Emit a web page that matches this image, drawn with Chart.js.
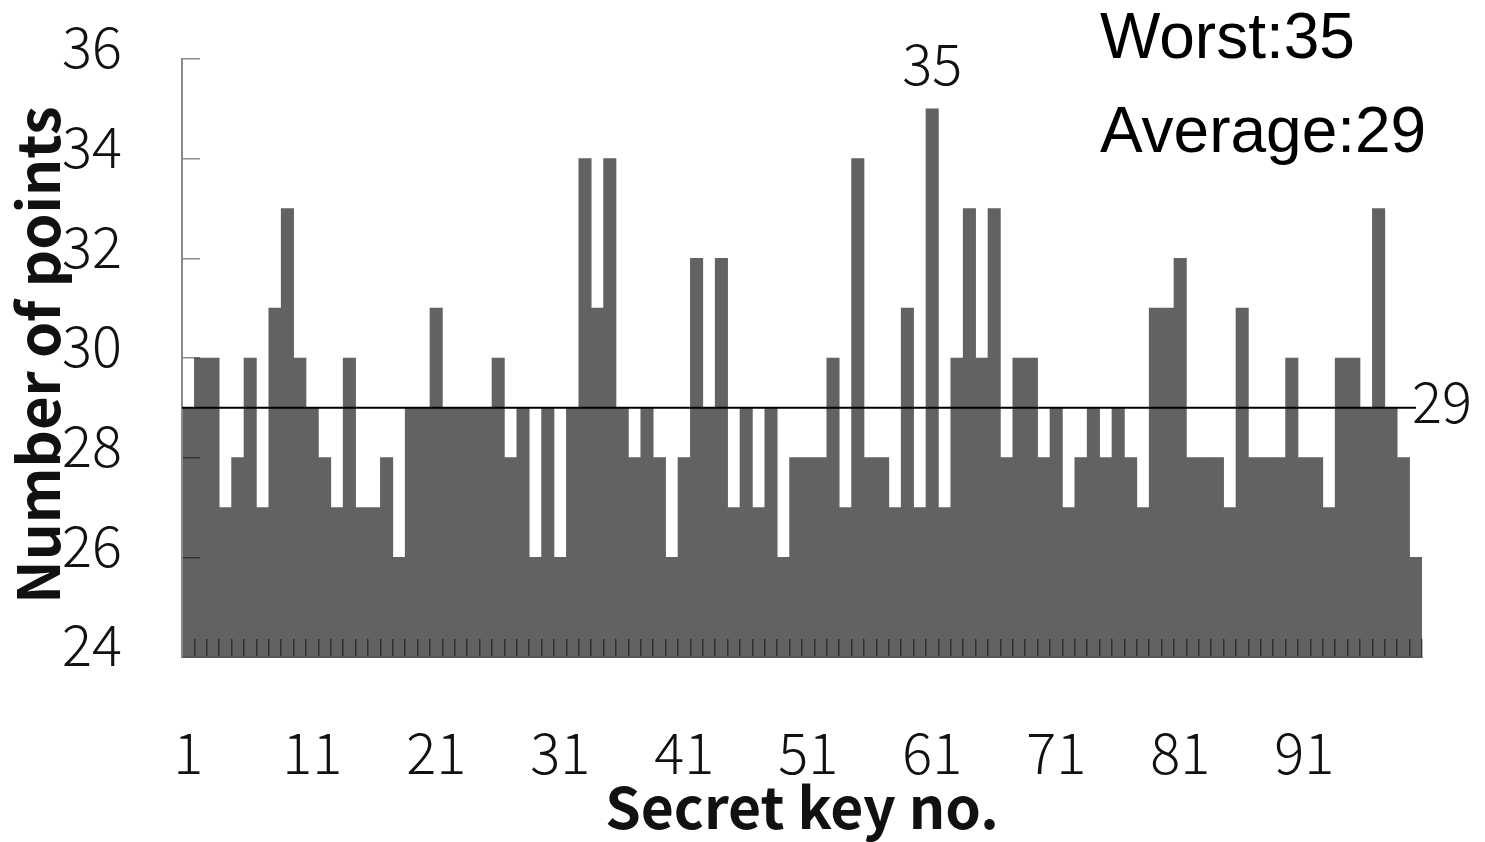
<!DOCTYPE html>
<html>
<head>
<meta charset="utf-8">
<script src="https://cdn.jsdelivr.net/npm/chart.js@4.4.1/dist/chart.umd.min.js"></script>
<style>
  html, body { margin: 0; padding: 0; background: #fff; }
  #wrap { width: 1485px; height: 842px; }
</style>
</head>
<body>
<div id="wrap"><canvas id="chart" width="1485" height="842"></canvas></div>
<script>
// Number of points per secret key (keys 1..100)
const keyNos = Array.from({ length: 100 }, (_, i) => String(i + 1));
const points = [
  29, 30, 30, 27, 28, 30, 27, 31, 33, 30,
  29, 28, 27, 30, 27, 27, 28, 26, 29, 29,
  31, 29, 29, 29, 29, 30, 28, 29, 26, 29,
  26, 29, 34, 31, 34, 29, 28, 29, 28, 26,
  28, 32, 29, 32, 27, 29, 27, 29, 26, 28,
  28, 28, 30, 27, 34, 28, 28, 27, 31, 27,
  35, 27, 30, 33, 30, 33, 28, 30, 30, 28,
  29, 27, 28, 29, 28, 29, 28, 27, 31, 31,
  32, 28, 28, 28, 27, 31, 28, 28, 28, 30,
  28, 28, 27, 30, 30, 29, 33, 29, 28, 26
];
const worstValue = 35;
const averageValue = 29;
const yRange = [24, 36];

const digitFont = '"Noto Sans CJK JP", "DejaVu Sans", sans-serif';
const BAR_GREY = '#626262';

// average line, peak label, legend text, y title
const overlay = {
  id: 'overlay',
  afterDraw(chart) {
    const { ctx, chartArea } = chart;
    const x = chart.scales.x, y = chart.scales.y;
    ctx.save();

    // average line
    const ay = y.getPixelForValue(averageValue);
    ctx.strokeStyle = '#000';
    ctx.lineWidth = 2;
    ctx.beginPath();
    ctx.moveTo(chartArea.left, ay);
    ctx.lineTo(chartArea.right - 6, ay);
    ctx.stroke();

    ctx.fillStyle = '#111';
    ctx.font = '300 56px ' + digitFont;
    ctx.textBaseline = 'middle';
    ctx.textAlign = 'left';
    ctx.fillText(String(averageValue), chartArea.right - 10, ay - 6);

    // worst value label over its bar
    const wi = points.indexOf(worstValue);
    ctx.textAlign = 'center';
    ctx.fillText(String(worstValue), x.getPixelForValue(wi), y.getPixelForValue(worstValue) - 45);

    // summary text
    ctx.font = '64px "Liberation Sans", Arial, sans-serif';
    ctx.textAlign = 'left';
    ctx.textBaseline = 'alphabetic';
    ctx.fillStyle = '#000';
    ctx.fillText('Worst:' + worstValue, 1100, 58);
    ctx.fillText('Average:' + averageValue, 1100, 152);

    // y axis title, drawn over the tick labels like the original
    ctx.translate(60, 355);
    ctx.rotate(-Math.PI / 2);
    ctx.font = 'bold 58px ' + digitFont;
    ctx.textAlign = 'center';
    ctx.fillStyle = '#111';
    ctx.fillText('Number of points', 0, 0);
    ctx.restore();
  }
};

new Chart(document.getElementById('chart'), {
  type: 'bar',
  data: {
    labels: keyNos,
    datasets: [{
      data: points,
      backgroundColor: BAR_GREY,
      borderWidth: 0,
      barPercentage: 1.0,
      categoryPercentage: 1.0
    }]
  },
  options: {
    responsive: false,
    animation: false,
    devicePixelRatio: 1,
    layout: { padding: { left: 0, right: 63, top: 59, bottom: 0 } },
    plugins: { legend: { display: false }, tooltip: { enabled: false } },
    scales: {
      x: {
        grid: {
          z: 1,
          drawOnChartArea: false,
          tickLength: -18,
          color: 'rgba(0,0,0,0.5)',
          lineWidth: 1.5
        },
        border: { display: true, color: '#555', width: 2, z: 2 },
        ticks: {
          autoSkip: false,
          maxRotation: 0,
          padding: 80,
          color: '#111',
          font: { family: digitFont, size: 56, weight: 300 },
          callback: (v, i) => (i % 10 === 0 ? keyNos[i] : '')
        },
        title: {
          display: true,
          text: 'Secret key no.',
          color: '#111',
          font: { family: digitFont, size: 57, weight: 'bold' },
          padding: { top: 0, bottom: 0 }
        },
        afterFit(scale) {
          scale.height = 185;
          scale.paddingLeft = 0;
          scale.paddingRight = 0;
        }
      },
      y: {
        min: yRange[0],
        max: yRange[1],
        grid: {
          z: 1,
          drawOnChartArea: false,
          tickLength: -18,
          color: 'rgba(0,0,0,0.45)',
          lineWidth: 1.5
        },
        border: { display: true, color: '#8a8a8a', width: 2, z: 2 },
        ticks: {
          stepSize: 2,
          padding: 78,
          labelOffset: -12,
          color: '#111',
          font: { family: digitFont, size: 56, weight: 300 }
        },
        afterFit(scale) {
          scale.width = 182;
          scale.paddingTop = 0;
          scale.paddingBottom = 0;
        }
      }
    }
  },
  plugins: [overlay]
});
</script>
</body>
</html>
